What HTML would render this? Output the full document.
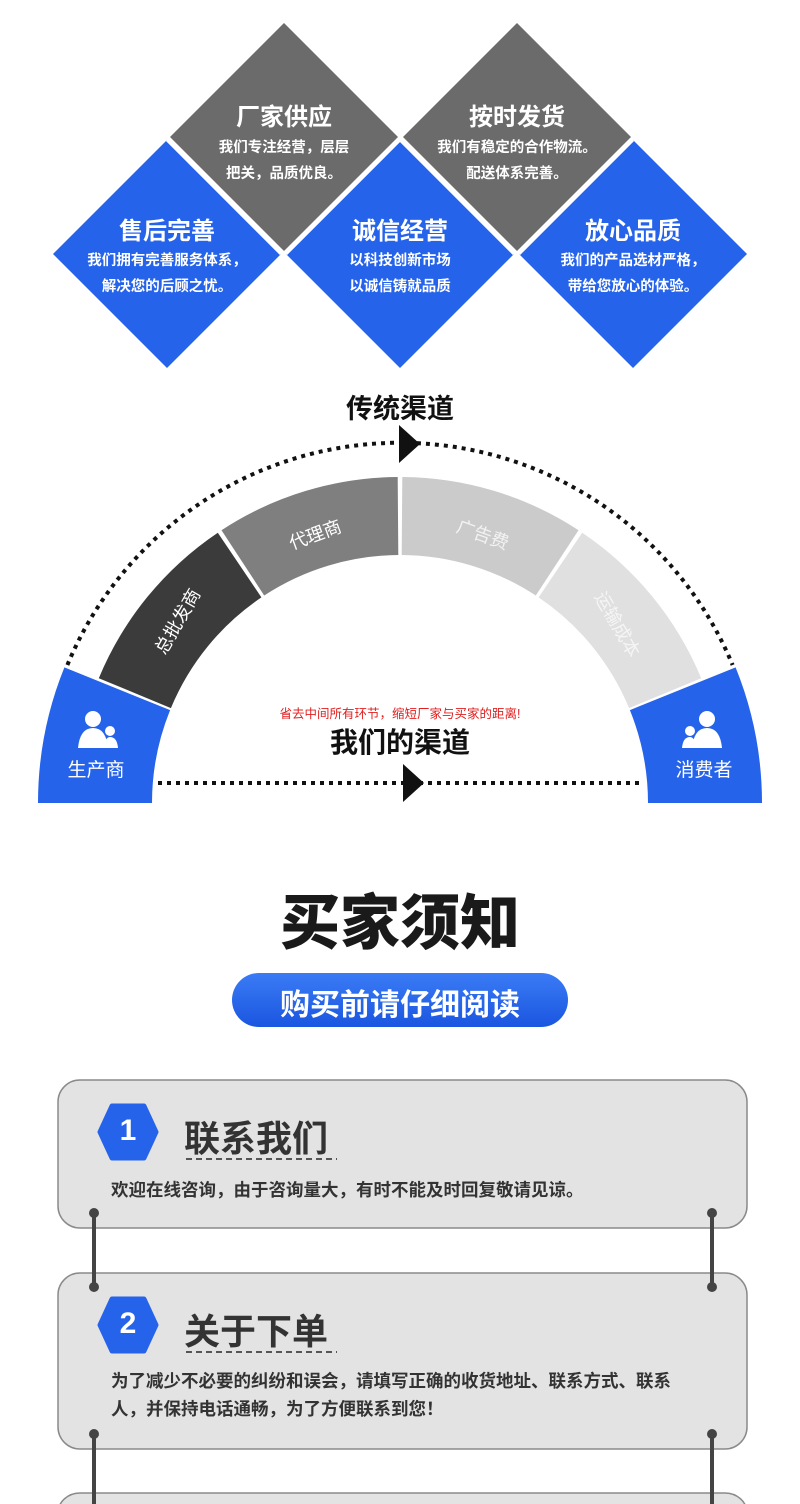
<!DOCTYPE html>
<html><head><meta charset="utf-8"><style>
html,body{margin:0;padding:0;background:#fff;}
body{width:800px;height:1504px;position:relative;overflow:hidden;font-family:"Liberation Sans","Noto Sans CJK SC",sans-serif;}
.t{position:absolute;text-align:center;white-space:nowrap;font-weight:bold;}
</style></head><body>
<svg width="800" height="1504" style="position:absolute;left:0;top:0" xmlns="http://www.w3.org/2000/svg">
<g fill="#6b6b6b">
<polygon points="284,23 398,137 284,251 170,137"/>
<polygon points="517,23 631,137 517,251 403,137"/>
</g>
<g fill="#2563eb">
<polygon points="167,140 281,254 167,368 53,254"/>
<polygon points="400,140 514,254 400,368 286,254"/>
<polygon points="633,140 747,254 633,368 519,254"/>
</g>
<g fill="none" stroke="#fff" stroke-width="3">
<polyline points="167,140 281,254"/><polyline points="400,140 286,254"/><polyline points="400,140 514,254"/><polyline points="633,140 519,254"/>
</g>
<path d="M98.8,678.2 A326,326 0 0 1 217.8,532.7 L261.4,597.4 A248,248 0 0 0 170.9,708.1 Z" fill="#3b3b3b"/>
<path d="M221.5,530.2 A326,326 0 0 1 397.7,477 L398.3,555 A248,248 0 0 0 264.2,595.5 Z" fill="#7f7f7f"/>
<path d="M402.3,477 A326,326 0 0 1 578.5,530.2 L535.8,595.5 A248,248 0 0 0 401.7,555 Z" fill="#cbcbcb"/>
<path d="M582.2,532.7 A326,326 0 0 1 701.2,678.2 L629.1,708.1 A248,248 0 0 0 538.6,597.4 Z" fill="#e0e0e0"/>
<path d="M38,803 A362,362 0 0 1 64.4,667.4 L170.1,710.1 A248,248 0 0 0 152,803 Z" fill="#2563eb"/>
<path d="M762,803 A362,362 0 0 0 735.6,667.4 L629.9,710.1 A248,248 0 0 1 648,803 Z" fill="#2563eb"/>
<path d="M67.4,665 A360,360 0 0 1 732.6,665" fill="none" stroke="#111" stroke-width="4" stroke-dasharray="4 5"/>
<polygon points="399,425 420,444 399,463" fill="#111"/>
<line x1="158" y1="783" x2="642" y2="783" stroke="#111" stroke-width="4" stroke-dasharray="4 5"/>
<polygon points="403,764 424,783 403,802" fill="#111"/>
<g fill="#fff">
<circle cx="93" cy="719" r="8"/><path d="M78,748 Q80,728 93,728 Q106,728 108,748 Z"/>
<circle cx="110" cy="731" r="5"/><path d="M104,748 Q105,737 110,737 Q117,737 118,748 Z"/>
<circle cx="707" cy="719" r="8"/><path d="M692,748 Q694,728 707,728 Q720,728 722,748 Z"/>
<circle cx="690" cy="731" r="5"/><path d="M682,748 Q683,737 690,737 Q695,737 696,748 Z"/>
</g>
<rect x="58" y="1080" width="689" height="148" rx="22" fill="#e3e3e3" stroke="#8a8a8a" stroke-width="1.5"/>
<rect x="58" y="1273" width="689" height="176" rx="22" fill="#e3e3e3" stroke="#8a8a8a" stroke-width="1.5"/>
<rect x="58" y="1493" width="689" height="40" rx="22" fill="#e3e3e3" stroke="#8a8a8a" stroke-width="1.5"/>
<g stroke="#444" stroke-width="4">
<line x1="94" y1="1213" x2="94" y2="1287"/><line x1="712" y1="1213" x2="712" y2="1287"/>
<line x1="94" y1="1434" x2="94" y2="1504"/><line x1="712" y1="1434" x2="712" y2="1504"/>
</g>
<g fill="#444">
<circle cx="94" cy="1213" r="5"/><circle cx="712" cy="1213" r="5"/><circle cx="94" cy="1287" r="5"/><circle cx="712" cy="1287" r="5"/>
<circle cx="94" cy="1434" r="5"/><circle cx="712" cy="1434" r="5"/>
</g>
<polygon points="112,1106 144,1106 156,1132 144,1158 112,1158 100,1132" fill="#2563eb" stroke="#2563eb" stroke-width="5" stroke-linejoin="round"/>
<polygon points="112,1299 144,1299 156,1325 144,1351 112,1351 100,1325" fill="#2563eb" stroke="#2563eb" stroke-width="5" stroke-linejoin="round"/>
<g stroke="#555" stroke-width="2" stroke-dasharray="6 4">
<line x1="186" y1="1159" x2="337" y2="1159"/><line x1="186" y1="1352" x2="337" y2="1352"/>
</g>
<defs><linearGradient id="g" x1="0" y1="0" x2="0" y2="1"><stop offset="0" stop-color="#3b7bf5"/><stop offset="1" stop-color="#1a56e0"/></linearGradient></defs>
<rect x="232" y="973" width="336" height="54" rx="27" fill="url(#g)"/>
</svg>

<div class="t" style="left:184px;top:97px;width:200px;font-size:24px;color:#fff">厂家供应</div>
<div class="t" style="left:184px;top:135px;width:200px;font-size:14.5px;line-height:26px;color:#fff">我们专注经营，层层<br>把关，品质优良。</div>
<div class="t" style="left:417px;top:97px;width:200px;font-size:24px;color:#fff">按时发货</div>
<div class="t" style="left:417px;top:135px;width:200px;font-size:14.5px;line-height:26px;color:#fff">我们有稳定的合作物流。<br>配送体系完善。</div>
<div class="t" style="left:67px;top:211px;width:200px;font-size:24px;color:#fff">售后完善</div>
<div class="t" style="left:67px;top:248px;width:200px;font-size:14.5px;line-height:26px;color:#fff">我们拥有完善服务体系，<br>解决您的后顾之忧。</div>
<div class="t" style="left:300px;top:211px;width:200px;font-size:24px;color:#fff">诚信经营</div>
<div class="t" style="left:300px;top:248px;width:200px;font-size:14.5px;line-height:26px;color:#fff">以科技创新市场<br>以诚信铸就品质</div>
<div class="t" style="left:533px;top:211px;width:200px;font-size:24px;color:#fff">放心品质</div>
<div class="t" style="left:533px;top:248px;width:200px;font-size:14.5px;line-height:26px;color:#fff">我们的产品选材严格，<br>带给您放心的体验。</div>

<div class="t" style="left:300px;top:387px;width:200px;font-size:27px;color:#111">传统渠道</div>
<div class="t" style="left:127px;top:608px;width:100px;font-size:18px;font-weight:normal;color:#fff;transform:rotate(-60deg)">总批发商</div>
<div class="t" style="left:265px;top:521px;width:100px;font-size:18px;font-weight:normal;color:#fff;transform:rotate(-20deg)">代理商</div>
<div class="t" style="left:433px;top:521px;width:100px;font-size:18px;font-weight:normal;color:#f2f2f2;transform:rotate(20deg)">广告费</div>
<div class="t" style="left:568px;top:611px;width:100px;font-size:18px;font-weight:normal;color:#f5f5f5;transform:rotate(60deg)">运输成本</div>
<div class="t" style="left:200px;top:703px;width:400px;font-size:12.5px;font-weight:normal;color:#e02020">省去中间所有环节，缩短厂家与买家的距离!</div>
<div class="t" style="left:300px;top:721px;width:200px;font-size:28px;color:#111">我们的渠道</div>
<div class="t" style="left:46px;top:755px;width:100px;font-size:19px;font-weight:normal;color:#fff">生产商</div>
<div class="t" style="left:654px;top:755px;width:100px;font-size:19px;font-weight:normal;color:#fff">消费者</div>

<div class="t" style="left:200px;top:875px;width:400px;font-size:60px;font-weight:900;color:#1a1a1a">买家须知</div>
<div class="t" style="left:232px;top:980px;width:336px;font-size:30px;color:#fff">购买前请仔细阅读</div>

<div class="t" style="left:106px;top:1114px;width:44px;font-size:30px;color:#fff">1</div>
<div class="t" style="left:106px;top:1307px;width:44px;font-size:30px;color:#fff">2</div>
<div class="t" style="left:184px;top:1110px;font-size:36px;color:#333;text-align:left">联系我们</div>
<div class="t" style="left:184px;top:1303px;font-size:36px;color:#333;text-align:left">关于下单</div>
<div class="t" style="left:111px;top:1177px;font-size:17.5px;color:#333;text-align:left">欢迎在线咨询，由于咨询量大，有时不能及时回复敬请见谅。</div>
<div class="t" style="left:111px;top:1367px;font-size:17.5px;line-height:28px;color:#333;text-align:left">为了减少不必要的纠纷和误会，请填写正确的收货地址、联系方式、联系<br>人，并保持电话通畅，为了方便联系到您！</div>
</body></html>
